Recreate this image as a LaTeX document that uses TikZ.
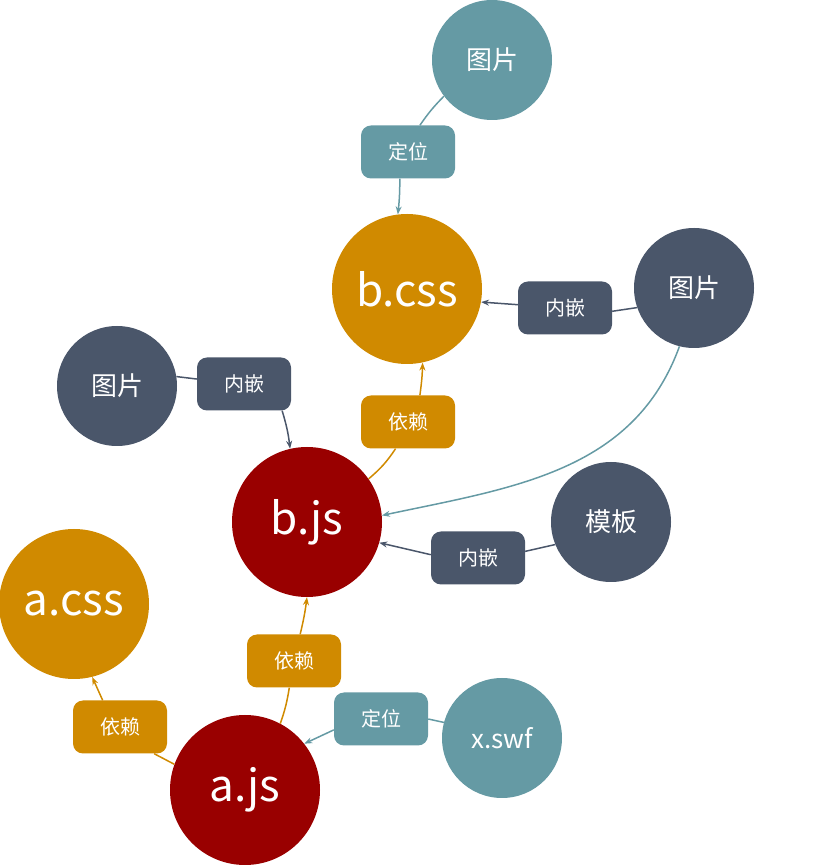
\documentclass[tikz,border=0pt]{standalone}
\usepackage{fontspec}
\setmainfont{Noto Sans CJK SC}
\usetikzlibrary{arrows.meta}
\definecolor{tealc}{RGB}{101,154,164}
\definecolor{slatec}{RGB}{74,86,106}
\definecolor{orangec}{RGB}{208,138,0}
\definecolor{redc}{RGB}{153,0,0}
\tikzset{hub/.style={circle,fill=#1,text=white,minimum size=150pt,inner sep=0pt,font=\fontsize{44}{48}\selectfont}}
\tikzset{leaf/.style={circle,fill=#1,text=white,minimum size=120pt,inner sep=0pt,font=\fontsize{26}{30}\selectfont}}
\tikzset{tag/.style={rounded corners=10pt,fill=#1,text=white,minimum width=94pt,minimum height=53pt,inner sep=0pt,font=\fontsize{20}{24}\selectfont}}
\tikzset{link/.style={draw=#1,line width=1.5pt}}
\tikzset{arr/.style={-{Stealth[length=8pt,width=6pt]}}}

\begin{document}
\begin{tikzpicture}[x=1pt,y=1pt]
        \useasboundingbox (0,0) rectangle (814,868);
        % the files
        \node[hub=orangec] (bcss) at (407,579) {b.css};
        \node[hub=redc] (bjs) at (307,346) {b.js};
        \node[hub=orangec] (acss) at (74,264) {a.css};
        \node[hub=redc] (ajs) at (245,78) {a.js};
        % the resources
        \node[leaf=tealc] (imgtop) at (492,808) {图片};
        \node[leaf=slatec] (imgr) at (694,580) {图片};
        \node[leaf=slatec] (imgl) at (117,482) {图片};
        \node[leaf=slatec] (tpl) at (611,346) {模板};
        \node[leaf=tealc] (xswf) at (502,130) {x.swf};
        % the tags on the links
        \node[tag=tealc] (pos1) at (408,716) {定位};
        \node[tag=slatec] (emb1) at (565,560) {内嵌};
        \node[tag=slatec] (emb2) at (244,484) {内嵌};
        \node[tag=orangec] (dep1) at (408,446) {依赖};
        \node[tag=slatec] (emb3) at (478,310) {内嵌};
        \node[tag=orangec] (dep2) at (294,207) {依赖};
        \node[tag=orangec] (dep3) at (120,141) {依赖};
        \node[tag=tealc] (pos2) at (381,149) {定位};

        % links into b.css
        \draw[link=tealc] (imgtop.217) to[bend right=5] (pos1.66);
        \draw[link=tealc,arr] (pos1.-107) to[bend left=3] (bcss.97);
        \draw[link=slatec] (imgr.199) -- (emb1.-4);
        \draw[link=slatec,arr] (emb1.176) -- (bcss.-10);
        \draw[link=orangec] (bjs.35) to[bend right=8] (dep1.-115);
        \draw[link=orangec,arr] (dep1.66) to[bend right=3] (bcss.-78);
        % links into b.js
        \draw[link=tealc,arr] (imgr.-104) to[out=-110,in=12] (bjs.5);
        \draw[link=slatec] (imgl.9) -- (emb2.174);
        \draw[link=slatec,arr] (emb2.-35) to[bend left=5] (bjs.103);
        \draw[link=slatec] (tpl.202) -- (emb3.8);
        \draw[link=slatec,arr] (emb3.176) -- (bjs.-16);
        \draw[link=orangec] (ajs.62) to[bend right=5] (dep2.-100);
        \draw[link=orangec,arr] (dep2.77) to[bend right=3] (bjs.-90);
        % links of a.js
        \draw[link=orangec] (ajs.160) -- (dep3.-38);
        \draw[link=orangec,arr] (dep3.123) -- (acss.-76);
        \draw[link=tealc] (xswf.165) -- (pos2.east);
        \draw[link=tealc,arr] (pos2.193) -- (ajs.38);
\end{tikzpicture}
\end{document}
